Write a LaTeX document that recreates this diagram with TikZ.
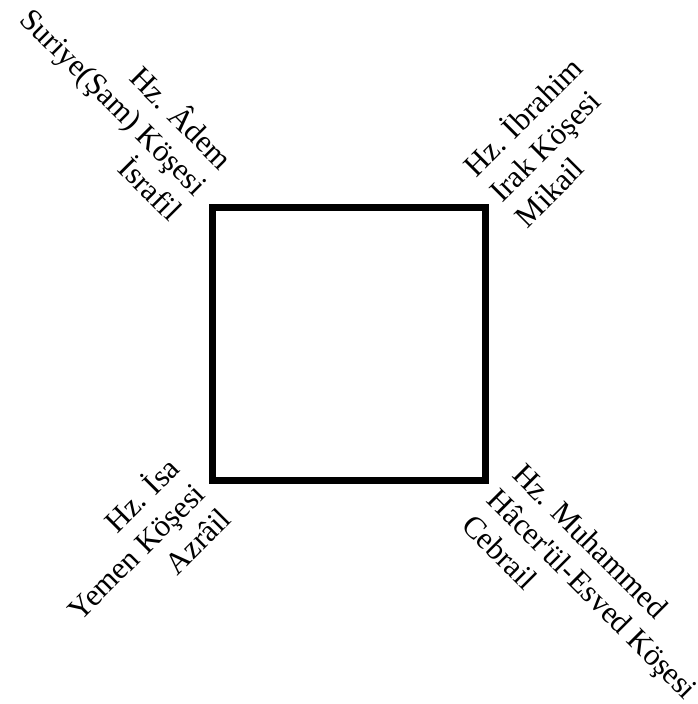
\documentclass[tikz,border=0pt]{standalone}
\usepackage{fontspec}
\setmainfont{Liberation Serif}
\usepackage{tikz}
\usetikzlibrary{positioning}

\begin{document}
\begin{tikzpicture}[x=1pt, y=-1pt,
		corner/.style={inner sep=0pt, font=\fontsize{31}{36}\selectfont}]
			\useasboundingbox (0, 0) rectangle (697, 704);
			% Square and corner labels:
			\coordinate (NW) at (212.5, 207.5);
			\coordinate (SE) at (485.5, 480.5);
			\draw[line width=6.5pt] (NW) rectangle (SE);
			\node[corner, rotate=-45, align=right, anchor=east](adem) at (204, 188){Hz. Âdem\\Suriye(Şam) Köşesi\\İsrafil};
			\node[corner, rotate=45, align=left, anchor=west](ibrahim) at (493, 195){Hz. İbrahim\\Irak Köşesi\\Mikail};
			\node[corner, rotate=45, align=right, anchor=east](isa) at (198, 487){Hz. İsa\\Yemen Köşesi\\Azrâil};
			\node[corner, rotate=-45, align=left, anchor=west](muhammed) at (493, 494){Hz. Muhammed\\Hâcer\textquotesingle ül-Esved Köşesi\\Cebrail};
		\end{tikzpicture}
\end{document}
